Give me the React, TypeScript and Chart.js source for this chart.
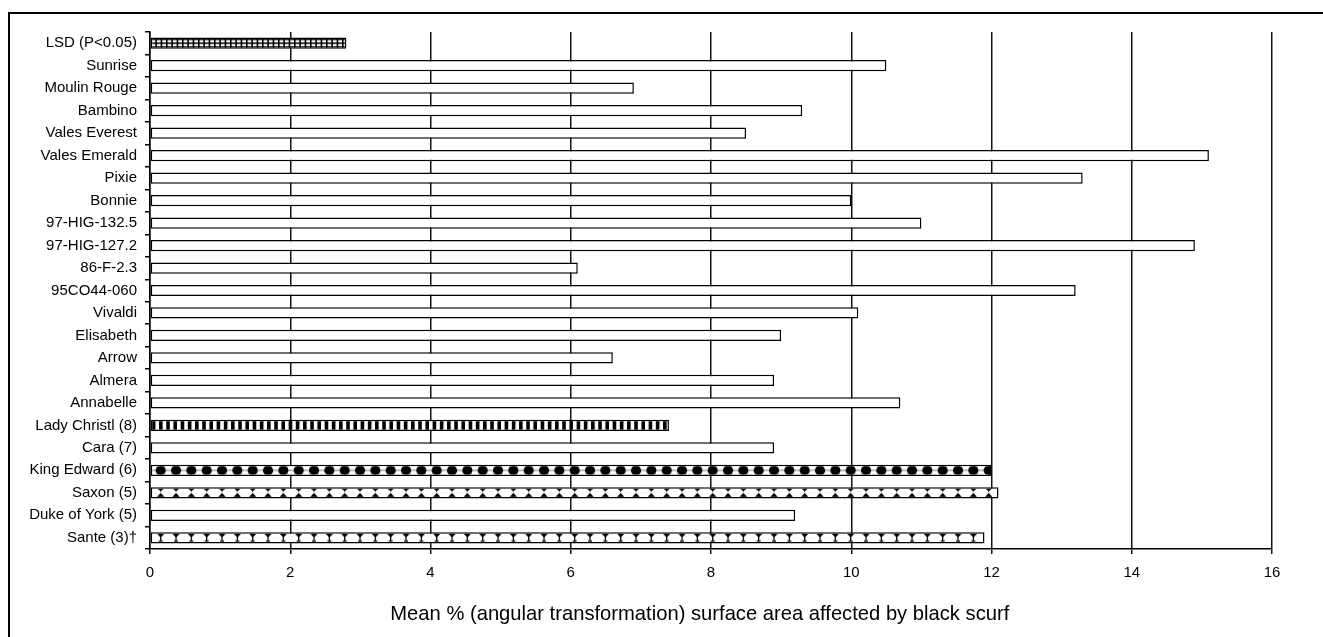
import React, { useEffect, useRef } from 'react';
import { Chart, registerables } from 'chart.js';

Chart.register(...registerables);

const categories: string[] = [
  'LSD (P<0.05)',
  'Sunrise',
  'Moulin Rouge',
  'Bambino',
  'Vales Everest',
  'Vales Emerald',
  'Pixie',
  'Bonnie',
  '97-HIG-132.5',
  '97-HIG-127.2',
  '86-F-2.3',
  '95CO44-060',
  'Vivaldi',
  'Elisabeth',
  'Arrow',
  'Almera',
  'Annabelle',
  'Lady Christl (8)',
  'Cara (7)',
  'King Edward (6)',
  'Saxon (5)',
  'Duke of York (5)',
  'Sante (3)†',
];

const meanValues: number[] = [
  2.8, 10.5, 6.9, 9.3, 8.5, 15.1, 13.3, 10.0, 11.0, 14.9, 6.1, 13.2, 10.1, 9.0,
  6.6, 8.9, 10.7, 7.4, 8.9, 12.0, 12.1, 9.2, 11.9,
];

const xTickValues: number[] = [0, 2, 4, 6, 8, 10, 12, 14, 16];
const xTitle = 'Mean % (angular transformation) surface area affected by black scurf';

// fill style per bar (pattern names), kept separate from the data
const barFills: string[] = [
  'grid', '', '', '', '', '', '', '', '', '', '', '', '', '', '', '', '',
  'stripes', '', 'dots', 'hourglass', '', 'goblet',
];

const FONT = "'Liberation Sans', Arial, sans-serif";
const TILE_H = 24;

function makeTile(kind: string): HTMLCanvasElement {
  const c = document.createElement('canvas');
  let w = 46;
  if (kind === 'grid') w = 16;
  if (kind === 'stripes') w = 36;
  c.width = w;
  c.height = TILE_H;
  const g = c.getContext('2d')!;
  const cy = TILE_H / 2;
  const top = cy - 4.2;
  const bot = cy + 4.2;
  g.fillStyle = '#fff';
  g.fillRect(0, 0, w, TILE_H);
  g.fillStyle = '#000';
  if (kind === 'grid') {
    const p = w / 3;
    for (let k = 0; k < 3; k++) g.fillRect(k * p, 0, 1.6, TILE_H);
    g.fillRect(0, cy - 0.75, w, 1.5);
    g.fillRect(0, top, w, 1.2);
    g.fillRect(0, bot - 1.2, w, 1.2);
  } else if (kind === 'stripes') {
    const p = w / 5;
    for (let k = 0; k < 5; k++) g.fillRect(k * p + 1.8, 0, 3.6, TILE_H);
  } else {
    const p = w / 3;
    if (kind === 'dots') {
      g.fillStyle = '#777';
      g.fillRect(0, cy - 0.5, w, 1);
      g.fillStyle = '#000';
    }
    for (let k = 0; k < 3; k++) {
      const cx = p / 2 + k * p;
      if (kind === 'dots') {
        g.beginPath();
        g.arc(cx, cy, 5.1, 0, Math.PI * 2);
        g.fill();
      } else if (kind === 'hourglass') {
        g.fillRect(cx - 2.6, top, 5.2, 1);
        g.beginPath();
        g.moveTo(cx - 2.4, top);
        g.lineTo(cx + 2.4, top);
        g.lineTo(cx, top + 3.2);
        g.closePath();
        g.fill();
        g.beginPath();
        g.moveTo(cx - 3.8, bot);
        g.lineTo(cx + 3.8, bot);
        g.lineTo(cx, bot - 4.3);
        g.closePath();
        g.fill();
      } else if (kind === 'goblet') {
        g.beginPath();
        g.moveTo(cx - 3.8, top);
        g.lineTo(cx + 3.8, top);
        g.lineTo(cx, top + 4);
        g.closePath();
        g.fill();
        g.fillRect(cx - 0.6, top + 3, 1.2, 4.5);
        g.fillRect(cx - 2, bot - 1.6, 4, 1.2);
      }
    }
  }
  return c;
}

export default function App() {
  const ref = useRef<HTMLCanvasElement>(null);

  useEffect(() => {
    const canvas = ref.current!;
    const tiles: Record<string, HTMLCanvasElement> = {};
    const getTile = (k: string) => {
      if (!tiles[k]) tiles[k] = makeTile(k);
      return tiles[k];
    };

    const chart = new Chart(canvas, {
      type: 'bar',
      data: {
        labels: categories,
        datasets: [
          {
            data: meanValues,
            backgroundColor: (ctx: any) => {
              if (ctx.type !== 'data') return '#fff';
              const kind = barFills[ctx.dataIndex];
              if (!kind) return '#fff';
              const ch = ctx.chart;
              const xs = ch.scales.x;
              const ys = ch.scales.y;
              if (!xs || !ys) return '#fff';
              const yc = ys.getPixelForValue(ctx.dataIndex);
              const x0 = xs.getPixelForValue(0);
              if (!isFinite(yc) || !isFinite(x0)) return '#fff';
              const pat = ch.ctx.createPattern(getTile(kind), 'repeat');
              if (!pat) return '#fff';
              const shift = kind === 'grid' || kind === 'stripes' ? 0 : 3;
              pat.setTransform(new DOMMatrix().translate(x0 + shift, yc - TILE_H / 2));
              return pat;
            },
            borderColor: '#000',
            borderWidth: 1.5,
            borderSkipped: false,
            barPercentage: 0.5,
            categoryPercentage: 1,
          } as any,
        ],
      },
      options: {
        indexAxis: 'y',
        responsive: false,
        animation: false,
        layout: { padding: { left: 8, right: 51, top: 32, bottom: 10.5 } },
        plugins: {
          legend: { display: false },
          tooltip: { enabled: false },
        },
        scales: {
          x: {
            type: 'linear',
            min: xTickValues[0],
            max: xTickValues[xTickValues.length - 1],
            ticks: {
              stepSize: xTickValues[1] - xTickValues[0],
              color: '#000',
              font: { family: FONT, size: 15 },
              padding: 10,
            },
            grid: { color: '#111', lineWidth: 1.5, tickLength: 5, drawTicks: true },
            border: { color: '#000', width: 1.5 },
            title: {
              display: true,
              text: xTitle + '    ',
              color: '#000',
              font: { family: FONT, size: 20.2 },
              padding: 0,
            },
            afterFit: (s: any) => {
              s.height = 77.5;
            },
          },
          y: {
            type: 'category',
            ticks: {
              color: '#000',
              font: { family: FONT, size: 15 },
              padding: 8,
              autoSkip: false,
            },
            grid: {
              offset: true,
              drawOnChartArea: false,
              color: '#000',
              lineWidth: 1.5,
              tickLength: 5,
            },
            border: { color: '#000', width: 1.5 },
            afterFit: (s: any) => {
              s.width = 142;
            },
          },
        },
      } as any,
    });
    return () => chart.destroy();
  }, []);

  return (
    <div
      style={{
        position: 'fixed',
        left: 0,
        top: 0,
        width: 1323,
        height: 637,
        overflow: 'hidden',
        background: '#fff',
      }}
    >
      <div
        style={{
          position: 'absolute',
          left: 8,
          top: 12,
          width: 1400,
          height: 700,
          border: '2px solid #000',
        }}
      />
      <canvas
        ref={ref}
        width={1323}
        height={637}
        style={{ position: 'absolute', left: 0, top: 0 }}
      />
    </div>
  );
}
